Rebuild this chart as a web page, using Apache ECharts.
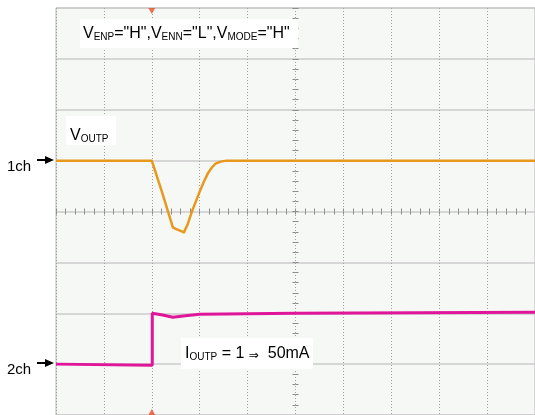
<!DOCTYPE html>
<html>
<head>
<meta charset="utf-8">
<script src="https://cdn.jsdelivr.net/npm/echarts@6/dist/echarts.min.js"></script>
<style>
  html, body { margin: 0; padding: 0; background: #ffffff; }
  #scope { width: 535px; height: 415px; }
</style>
</head>
<body>
<div id="scope"></div>
<script>
// Screen measured in divisions: 10 across, 8 high, origin at the centre.
const timeDivs = [-5, 5];
const levelDivs = [-4, 4];

// CH1: output voltage V_OUTP, [time div, level div]
const vOutp = [
  [-5.0, 1.0], [-3.0, 1.0], [-2.78, 0.36], [-2.56, -0.31], [-2.5, -0.34],
  [-2.4, -0.38], [-2.33, -0.41], [-2.25, -0.25], [-2.17, -0.02], [-2.08, 0.2],
  [-2.0, 0.39], [-1.92, 0.57], [-1.83, 0.75], [-1.75, 0.86], [-1.67, 0.94],
  [-1.56, 0.98], [-1.44, 1.0], [5.0, 1.0]
];

// CH2: load current I_OUTP, [time div, level div]
const iOutp = [
  [-5.0, -3.0], [-2.99, -3.02], [-2.99, -2.0], [-2.8, -2.03], [-2.56, -2.08],
  [-2.3, -2.05], [-2.0, -2.02], [0.0, -2.0], [5.0, -1.98]
];

const triggerTime = -3.0;
const channelNames = ['1ch', '2ch'];
const channelLevels = [1.0, -3.0];

const FONT = '"Liberation Sans", Arial, sans-serif';
const chart = echarts.init(document.getElementById('scope'), null, { renderer: 'canvas' });

// Horizontal (time) axis; two copies so the centre ticks stick out on both sides.
function timeAxis(position) {
  return {
    type: 'value', min: timeDivs[0], max: timeDivs[1], interval: 1, position: position,
    axisLine: { show: false, onZero: true, onZeroAxisIndex: 0 },
    axisLabel: { show: false },
    axisTick: { show: true, length: 3, lineStyle: { color: '#8c8c8c' } },
    minorTick: { show: true, splitNumber: 5, length: 3, lineStyle: { color: '#8c8c8c' } },
    splitLine: { show: position === 'bottom', lineStyle: { color: '#a0a0a0', width: 1, type: [1, 2] } },
    minorSplitLine: { show: false }
  };
}
// Vertical (level) axis, same idea.
function levelAxis(position) {
  return {
    type: 'value', min: levelDivs[0], max: levelDivs[1], interval: 1, position: position,
    axisLine: { show: false, onZero: true, onZeroAxisIndex: 0 },
    axisLabel: { show: false },
    axisTick: { show: true, length: 3, lineStyle: { color: '#8c8c8c' } },
    minorTick: { show: true, splitNumber: 5, length: 3, lineStyle: { color: '#8c8c8c' } },
    splitLine: { show: position === 'left', lineStyle: { color: '#cbcbcb', width: 1.5 } },
    minorSplitLine: { show: false }
  };
}

chart.setOption({
  animation: false,
  backgroundColor: '#ffffff',
  grid: {
    left: 56, top: 8, width: 480, height: 408,
    show: true, backgroundColor: '#f5f8f5', borderColor: '#b4b4b4', borderWidth: 1
  },
  xAxis: [timeAxis('bottom'), timeAxis('top')],
  yAxis: [levelAxis('left'), levelAxis('right')],
  series: [
    {
      name: 'VOUTP', type: 'line', data: vOutp, showSymbol: false,
      lineStyle: { color: '#e8981c', width: 2.5, join: 'round' }, z: 3
    },
    {
      name: 'IOUTP', type: 'line', data: iOutp, showSymbol: false,
      lineStyle: { color: '#e0169a', width: 3 }, z: 3
    },
    {
      name: 'trigger', type: 'scatter', clip: false, symbol: 'triangle',
      symbolSize: [7, 6], itemStyle: { color: '#e8502a' }, z: 4,
      data: [
        { value: [triggerTime, levelDivs[1]], symbolRotate: 180, symbolOffset: [0, 3] },
        { value: [triggerTime, levelDivs[0]], symbolRotate: 0, symbolOffset: [0, -3] }
      ]
    }
  ]
});

// Channel level markers on the left, placed from the grid's own scale.
const graphics = [];
channelNames.forEach(function (name, i) {
  const py = Math.round(chart.convertToPixel({ gridIndex: 0 }, [timeDivs[0], channelLevels[i]])[1]) - 1;
  graphics.push({
    type: 'text', x: 7, y: py + 7,
    style: { text: name, font: '15px ' + FONT, fill: '#000', textVerticalAlign: 'middle' }
  });
  graphics.push({
    type: 'line', shape: { x1: 37, y1: py, x2: 47, y2: py },
    style: { stroke: '#000', lineWidth: 2 }
  });
  graphics.push({
    type: 'polygon', shape: { points: [[45, py - 4], [54, py], [45, py + 4]] },
    style: { fill: '#000' }
  });
});

// Annotation boxes.
function noteBox(x, y, w, h) {
  return { type: 'rect', shape: { x: x, y: y, width: w, height: h }, style: { fill: '#ffffff' }, z: 10 };
}
function noteText(x, y, text, rich) {
  return {
    type: 'text', x: x, y: y, z: 11,
    style: { text: text, rich: rich, textVerticalAlign: 'middle', fill: '#000' }
  };
}
const richSub = {
  m: { fontSize: 16, fontFamily: FONT, color: '#000', lineHeight: 18, verticalAlign: 'bottom' },
  s: { fontSize: 10, fontFamily: FONT, color: '#000', lineHeight: 18, verticalAlign: 'bottom' },
  a: { fontSize: 12, fontFamily: '"DejaVu Sans", sans-serif', color: '#000', lineHeight: 18, verticalAlign: 'bottom' }
};

graphics.push(noteBox(80, 19, 218, 29));
graphics.push(noteText(83, 33, '{m|V}{s|ENP}{m|="H",V}{s|ENN}{m|="L",V}{s|MODE}{m|="H"}', richSub));

graphics.push(noteBox(66, 116, 50, 29));
graphics.push(noteText(70, 135, '{m|V}{s|OUTP}', richSub));

graphics.push(noteBox(181, 338, 132, 31));
graphics.push(noteText(185, 353, '{m|I}{s|OUTP}{m| = 1 }{a|⇒}{m|  50mA}', richSub));

chart.setOption({ graphic: graphics });
</script>
</body>
</html>
